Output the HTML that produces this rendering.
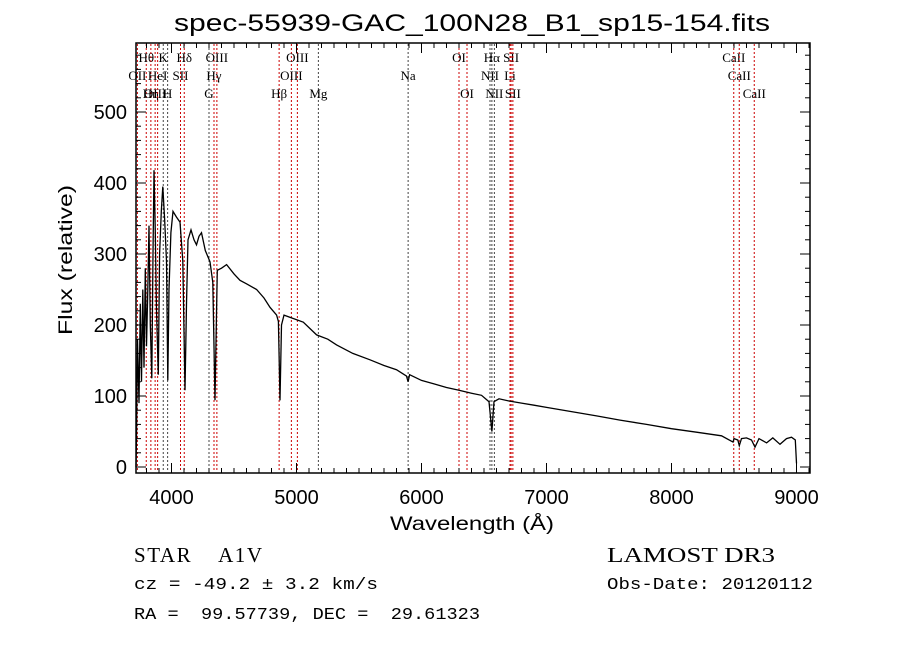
<!DOCTYPE html>
<html><head><meta charset="utf-8"><style>
html,body{margin:0;padding:0;background:#fff;}
svg{display:block;font-family:"Liberation Sans",sans-serif;}
text{white-space:pre;}
</style></head><body>
<svg id="chart" width="900" height="649" viewBox="0 0 900 649">
<rect width="900" height="649" fill="#fff"/>
<text x="472" y="31" text-anchor="middle" font-size="24" textLength="596" lengthAdjust="spacingAndGlyphs">spec-55939-GAC_100N28_B1_sp15-154.fits</text>
<g id="lines"></g>
<g id="ticks"></g>
<path id="spec" fill="none" stroke="#000" stroke-width="1.3"/>
<rect x="136" y="43" width="674" height="430" fill="none" stroke="#000" stroke-width="1.5"/>
<text x="472" y="530" text-anchor="middle" font-size="19" textLength="164" lengthAdjust="spacingAndGlyphs">Wavelength (Å)</text>
<text transform="translate(72,260) rotate(-90)" text-anchor="middle" font-size="19" textLength="150" lengthAdjust="spacingAndGlyphs">Flux (relative)</text>
<text x="134" y="562" font-size="21" font-family="Liberation Serif,serif" xml:space="preserve" textLength="128" lengthAdjust="spacing">STAR    A1V</text>
<text x="134" y="589" font-size="17" font-family="Liberation Mono,monospace" xml:space="preserve" textLength="244" lengthAdjust="spacingAndGlyphs">cz = -49.2 ± 3.2 km/s</text>
<text x="134" y="619" font-size="17" font-family="Liberation Mono,monospace" xml:space="preserve" textLength="346" lengthAdjust="spacingAndGlyphs">RA =  99.57739, DEC =  29.61323</text>
<text x="607" y="562" font-size="21" font-family="Liberation Serif,serif" textLength="168" lengthAdjust="spacingAndGlyphs">LAMOST DR3</text>
<text x="607" y="589" font-size="17" font-family="Liberation Mono,monospace" textLength="206" lengthAdjust="spacingAndGlyphs">Obs-Date: 20120112</text>
</svg>
<script>
const wavelengths=[3716,3720,3728,3740,3750,3760,3770,3780,3790,3800,3810,3820,3830,3842,3852,3860,3870,3880,3894,3905,3918,3930,3945,3960,3970,3980,3995,4012,4040,4068,4090,4108,4120,4132,4156,4180,4200,4220,4240,4270,4308,4330,4348,4358,4366,4400,4441,4500,4548,4600,4681,4740,4788,4841,4855,4868,4880,4900,4960,5054,5161,5250,5321,5450,5588,5700,5800,5880,5893,5905,6000,6100,6200,6300,6400,6480,6540,6563,6580,6620,6700,6800,6900,7000,7200,7400,7588,7800,8000,8200,8400,8492,8500,8530,8542,8560,8600,8640,8668,8700,8761,8810,8868,8920,8960,8990,9000];
const fluxes=[0,40,180,90,230,120,250,140,280,170,250,340,200,125,300,418,330,220,130,300,360,395,350,290,122,250,330,360,352,345,290,108,230,320,334,320,313,325,330,305,289,260,94,200,277,280,285,272,263,258,250,238,225,214,205,94,200,214,210,204,186,180,172,160,151,143,137,128,120,130,122,117,112,108,104,101,92,50,92,96,93,90,87,84,78,72,66,60,54,49,44,35,40,38,30,40,41,38,28,40,34,41,32,40,42,38,5];
const lineWaves=[3727,3798,3835,3869,3889,3934,3969,4072,4102,4300,4340,4363,4861,4959,5007,5175,5893,6300,6364,6548,6563,6583,6708,6717,6731,8498,8542,8662];
const lineLabels=["OII","Hθ","Hη","OIII","HeI","K","H","SII","Hδ","G","Hγ","OIII","Hβ","OIII","OIII","Mg","Na","OI","OI","NII","Hα","NII","Li","SII","SII","CaII","CaII","CaII"];
const lineRows=[1,0,2,2,1,0,2,1,0,2,1,0,2,1,0,2,1,0,2,1,0,2,1,0,2,0,1,2];
const lineRed=[1,1,1,1,1,0,0,1,1,0,1,1,1,1,1,0,0,1,1,0,0,0,1,1,1,1,1,1];
const xTicks=[4000,5000,6000,7000,8000,9000];
const yTicks=[0,100,200,300,400,500];
const NS="http://www.w3.org/2000/svg";
const X=w=>171.5+(w-4000)*0.125;
const Y=v=>467-v*0.71;
function mk(tag,attrs,parent,txt){const e=document.createElementNS(NS,tag);for(const k in attrs)e.setAttribute(k,attrs[k]);if(txt!==undefined)e.textContent=txt;parent.appendChild(e);return e;}
const lg=document.getElementById('lines');
lineWaves.forEach((w,i)=>{
 const l=mk('line',{x1:X(w),x2:X(w),y1:44,y2:472,stroke:lineRed[i]?'#c00':'#444','stroke-width':1,'stroke-dasharray':'2,2'},lg);
 
 
 const t=mk('text',{x:X(w),y:62+lineRows[i]*18,'text-anchor':'middle','font-size':13,'font-family':'Liberation Serif,serif'},lg,lineLabels[i]);
 
 
});
const tg=document.getElementById('ticks');
for(let w=3800;w<=9100;w+=100){const maj=w%1000===0;const len=maj?10:5;
 mk('line',{x1:X(w),x2:X(w),y1:473,y2:473-len,stroke:'#000'},tg);
 mk('line',{x1:X(w),x2:X(w),y1:43,y2:43+len,stroke:'#000'},tg);}
for(let v=0;v<=580;v+=20){const maj=v%100===0;const len=maj?10:5;
 mk('line',{x1:136,x2:136+len,y1:Y(v),y2:Y(v),stroke:'#000'},tg);
 mk('line',{x1:810,x2:810-len,y1:Y(v),y2:Y(v),stroke:'#000'},tg);}
xTicks.forEach(w=>{const t=mk('text',{x:X(w),y:504,'text-anchor':'middle','font-size':20},tg,String(w));
 
 });
yTicks.forEach(v=>{const t=mk('text',{x:127,y:Y(v)+7,'text-anchor':'end','font-size':20},tg,String(v));
 
 });
let d='';
wavelengths.forEach((w,i)=>{d+=(i?'L':'M')+X(w).toFixed(1)+','+Y(fluxes[i]).toFixed(1);});
document.getElementById('spec').setAttribute('d',d);
</script>
</body></html>
